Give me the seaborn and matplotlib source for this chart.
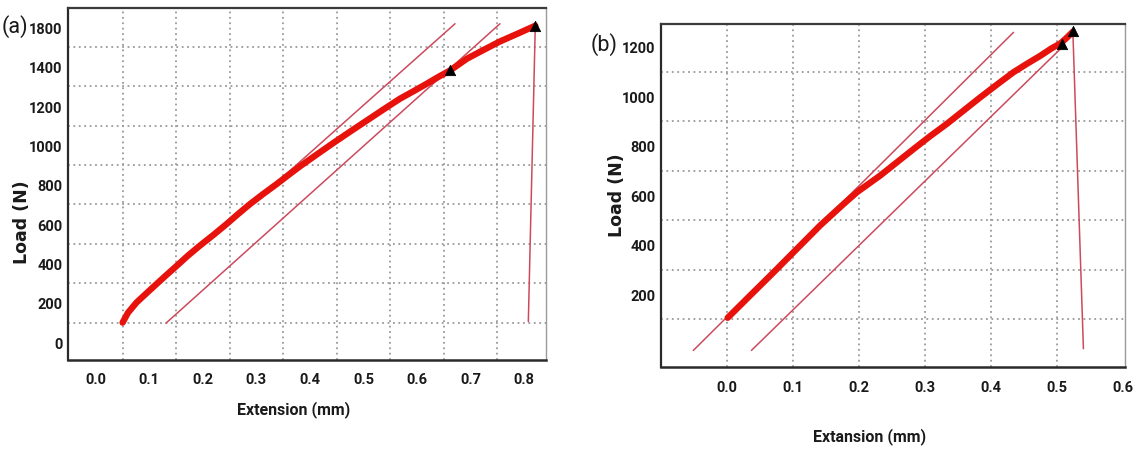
import matplotlib
matplotlib.use("Agg")
import matplotlib.pyplot as plt
from matplotlib.ticker import FixedLocator, FixedFormatter
from matplotlib import font_manager
import pandas as pd
import seaborn as sns

# ---- (a) load-extension record ----
ext_a = [0.050, 0.060, 0.076, 0.095, 0.113, 0.132, 0.151, 0.172, 0.194, 0.220, 0.244,
         0.266, 0.288, 0.312, 0.338, 0.360, 0.381, 0.416, 0.444, 0.475, 0.506, 0.537,
         0.568, 0.594, 0.618, 0.640, 0.662, 0.693, 0.725, 0.755, 0.790, 0.821]
load_a = [100, 150, 202, 250, 295, 342, 388, 440, 490, 546, 600,
          652, 702, 752, 804, 850, 893, 960, 1013, 1070, 1126, 1182,
          1237, 1276, 1313, 1348, 1381, 1440, 1486, 1528, 1570, 1608]
# offset (modulus) lines, break line and marked points
mod1_a_x = [0.300, 0.671]
mod1_a_y = [720, 1618]
mod2_a_x = [0.131, 0.755]
mod2_a_y = [97, 1618]
drop_a_x = [0.821, 0.808]
drop_a_y = [1608, 105]
mark_a_x = [0.662, 0.821]
mark_a_y = [1381, 1608]

# ---- (b) load-extension record ----
ext_b = [0.001, 0.035, 0.071, 0.106, 0.141, 0.177, 0.197, 0.232, 0.258, 0.283, 0.308,
         0.333, 0.358, 0.384, 0.410, 0.434, 0.455, 0.475, 0.492, 0.505, 0.515, 0.524]
load_b = [105, 195, 290, 384, 478, 566, 613, 680, 735, 788, 840,
          889, 942, 997, 1050, 1098, 1133, 1165, 1195, 1214, 1238, 1262]
mod1_b_x = [-0.051, 0.434]
mod1_b_y = [-27, 1259]
mod2_b_x = [0.037, 0.505]
mod2_b_y = [-27, 1192]
drop_b_x = [0.524, 0.540]
drop_b_y = [1262, -20]
mark_b_x = [0.508, 0.524]
mark_b_y = [1212, 1266]

# ---- axis ticks ----
xticks_a = [0.0, 0.1, 0.2, 0.3, 0.4, 0.5, 0.6, 0.7, 0.8]
xticklabels_a = ["0.0", "0.1", "0.2", "0.3", "0.4", "0.5", "0.6", "0.7", "0.8"]
yticks_a = [0, 200, 400, 600, 800, 1000, 1200, 1400, 1600]
yticklabels_a = ["0", "200", "400", "600", "800", "1000", "1200", "1400", "1800"]
xticks_b = [0.0, 0.1, 0.2, 0.3, 0.4, 0.5, 0.6]
xticklabels_b = ["0.0", "0.1", "0.2", "0.3", "0.4", "0.5", "0.6"]
yticks_b = [0, 200, 400, 600, 800, 1000, 1200]
yticklabels_b = ["", "200", "400", "600", "800", "1000", "1200"]

sns.set_style("white")

# pick a compact family that ships a bold face
bold_names = {f.name for f in font_manager.fontManager.ttflist
              if f.weight in (600, 700, 800, "bold", "semibold", "heavy")}
label_family = next((n for n in ["Roboto", "Open Sans", "Lato", "Noto Sans", "Liberation Sans"]
                     if n in bold_names), "DejaVu Sans")
plt.rcParams["font.family"] = [label_family, "DejaVu Sans"]

CURVE = "#e8120c"
THIN = "#cc4a5c"
GRID = "#9a9a9a"

fig = plt.figure(figsize=(11.39, 4.52), dpi=100)
W, H = 1139, 452


def px_axes(l, t, r, b):
    return fig.add_axes([l / W, 1 - b / H, (r - l) / W, (b - t) / H])


ax_a = px_axes(68, 9, 546, 361)
ax_b = px_axes(661, 25, 1125, 368)


def style_axes(ax, xlim, ylim, xmaj, xlab, xgrid, ymaj, ylab, ygrid, xminor):
    ax.set_xlim(*xlim)
    ax.set_ylim(*ylim)
    ax.xaxis.set_major_locator(FixedLocator(xmaj))
    ax.xaxis.set_major_formatter(FixedFormatter(xlab))
    ax.xaxis.set_minor_locator(FixedLocator(xminor))
    ax.yaxis.set_major_locator(FixedLocator(ymaj))
    ax.yaxis.set_major_formatter(FixedFormatter(ylab))
    ax.yaxis.set_minor_locator(FixedLocator(ygrid))
    for g in xgrid:
        ax.axvline(g, color=GRID, lw=1.3, ls=(0, (1.0, 2.0)), zorder=0)
    for g in ygrid:
        ax.axhline(g, color=GRID, lw=1.3, ls=(0, (1.0, 2.0)), zorder=0)
    ax.tick_params(axis="x", which="both", direction="inout", length=6, width=1.3,
                   color="#222222", pad=6, labelsize=10.5)
    ax.tick_params(axis="y", which="major", direction="out", length=2.5, width=1.3,
                   color="#222222", pad=1.5, labelsize=10.5)
    ax.tick_params(axis="y", which="minor", direction="out", length=2.5, width=1.0,
                   color="#444444")
    for lbl in ax.get_xticklabels() + ax.get_yticklabels():
        lbl.set_fontweight("bold")
        lbl.set_color("#1a1a1a")
    ax.spines["left"].set_color("#2a2a2a")
    ax.spines["left"].set_linewidth(1.6)
    ax.spines["bottom"].set_color("#2a2a2a")
    ax.spines["bottom"].set_linewidth(1.8)
    ax.spines["top"].set_color("#3a3a3a")
    ax.spines["top"].set_linewidth(1.6)
    ax.spines["right"].set_color("#9a9a9a")
    ax.spines["right"].set_linewidth(1.0)


def draw_panel(ax, ex, ld, m1x, m1y, m2x, m2y, dx, dy, mx, my):
    ax.plot(m1x, m1y, color=THIN, lw=1.1, zorder=2)
    ax.plot(m2x, m2y, color=THIN, lw=1.1, zorder=2)
    ax.plot(dx, dy, color=THIN, lw=1.1, zorder=2)
    df = pd.DataFrame({"Extension": ex, "Load": ld})
    sns.lineplot(data=df, x="Extension", y="Load", ax=ax, sort=False, color=CURVE,
                 lw=4.6, zorder=3, solid_capstyle="round")
    mk = pd.DataFrame({"Extension": mx, "Load": my})
    sns.scatterplot(data=mk, x="Extension", y="Load", ax=ax, marker="^", s=55,
                    color="black", edgecolor="black", zorder=4)


draw_panel(ax_a, ext_a, load_a, mod1_a_x, mod1_a_y, mod2_a_x, mod2_a_y,
           drop_a_x, drop_a_y, mark_a_x, mark_a_y)
draw_panel(ax_b, ext_b, load_b, mod1_b_x, mod1_b_y, mod2_b_x, mod2_b_y,
           drop_b_x, drop_b_y, mark_b_x, mark_b_y)

style_axes(ax_a, (-0.052, 0.841), (-90, 1698), xticks_a, xticklabels_a,
           [0.05, 0.15, 0.25, 0.35, 0.45, 0.55, 0.65, 0.75],
           yticks_a, yticklabels_a, [100, 300, 500, 700, 900, 1100, 1300, 1500],
           [-0.05, 0.05, 0.15, 0.25, 0.35, 0.45, 0.55, 0.65, 0.75, 0.85])
style_axes(ax_b, (-0.1, 0.603), (-94, 1293), xticks_b, xticklabels_b,
           [0.0, 0.1, 0.2, 0.3, 0.4, 0.5],
           yticks_b, yticklabels_b, [100, 300, 500, 700, 900, 1100],
           [-0.05, 0.05, 0.15, 0.25, 0.35, 0.45, 0.55])

# axis titles
for ax, xl, xpos, ypos in [(ax_a, "Extension (mm)", (0.471, -0.139), (-0.096, 0.395)),
                           (ax_b, "Extansion (mm)", (0.449, -0.200), (-0.094, 0.505))]:
    ax.set_xlabel(xl, fontsize=11.5, fontweight="bold", color="#1a1a1a")
    ax.xaxis.label.set_va("center")
    ax.xaxis.set_label_coords(*xpos)
    ax.set_ylabel("Load (N)", fontsize=12.5, fontweight="bold", color="#1a1a1a",
                  family=["DejaVu Sans"])
    ax.yaxis.label.set_va("center")
    ax.yaxis.set_label_coords(*ypos)

# panel tags
fig.text(15 / W, 1 - 27 / H, "(a)", fontsize=15.5, ha="center", va="center", color="#1a1a1a")
fig.text(604 / W, 1 - 45 / H, "(b)", fontsize=15.5, ha="center", va="center", color="#1a1a1a")

fig.savefig("out.png", dpi=100, facecolor="white")
